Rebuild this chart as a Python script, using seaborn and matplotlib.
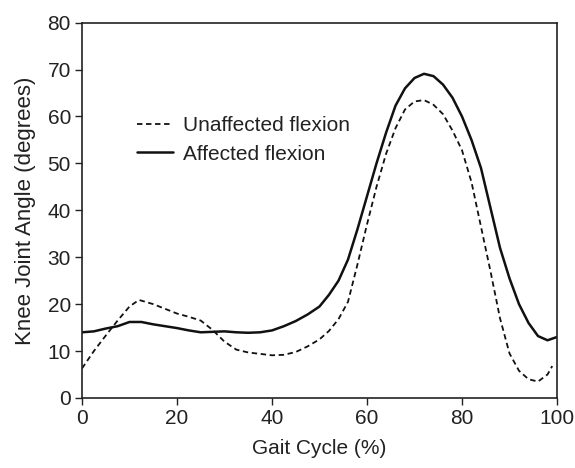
import matplotlib
matplotlib.use("Agg")
import matplotlib.pyplot as plt
import seaborn as sns
import pandas as pd

# values
affected_x = [0, 2.5, 5, 7.5, 10, 12.5, 15, 17.5, 20, 22.5, 25, 27.5, 30, 32.5, 35, 37.5,
              40, 42.5, 45, 47.5, 50, 52, 54, 56, 58, 60, 62, 64, 66, 68, 70, 72, 74, 76,
              78, 80, 82, 84, 86, 88, 90, 92, 94, 96, 98, 100]
affected_y = [14.0, 14.2, 14.8, 15.3, 16.2, 16.2, 15.7, 15.3, 14.9, 14.4, 14.0, 14.1, 14.2,
              14.0, 13.9, 14.0, 14.4, 15.3, 16.4, 17.8, 19.5, 22.0, 25.0, 29.5, 36.0, 43.0,
              50.0, 56.5, 62.3, 66.0, 68.2, 69.1, 68.6, 66.8, 64.0, 60.0, 55.0, 49.0, 40.5,
              32.0, 25.5, 20.0, 16.0, 13.2, 12.3, 13.0]

unaffected_x = [0, 2.5, 5, 7.5, 10, 12, 15, 17.5, 20, 22.5, 25, 27.5, 30, 32.5, 35, 37.5,
                40, 42.5, 45, 47.5, 50, 52, 54, 56, 58, 60, 62, 64, 66, 68, 70, 72, 74, 76,
                78, 80, 82, 84, 86, 88, 90, 92, 94, 96, 98, 99]
unaffected_y = [6.3, 10.0, 13.3, 16.5, 19.5, 20.9, 20.0, 19.0, 18.0, 17.3, 16.5, 14.5, 12.0,
                10.3, 9.7, 9.4, 9.1, 9.2, 9.8, 11.0, 12.5, 14.3, 16.8, 20.5, 28.5, 37.0, 45.0,
                52.0, 57.5, 61.5, 63.2, 63.5, 62.5, 60.5, 57.0, 52.8, 46.0, 36.5, 27.0, 17.0,
                9.5, 5.8, 4.0, 3.5, 5.0, 6.8]

x_ticks = [0, 20, 40, 60, 80, 100]
y_ticks = [0, 10, 20, 30, 40, 50, 60, 70, 80]

sns.set_style("ticks")
plt.rcParams["font.family"] = ["Liberation Sans", "DejaVu Sans"]

df_aff = pd.DataFrame({"x": affected_x, "y": affected_y})
df_unaff = pd.DataFrame({"x": unaffected_x, "y": unaffected_y})

fig = plt.figure(figsize=(5.75, 4.68), dpi=100)
ax = fig.add_axes([0.1426, 0.1496, 0.8261, 0.802])

sns.lineplot(data=df_unaff, x="x", y="y", ax=ax, color="#111111", linewidth=1.3,
             linestyle=(0, (3, 2)), label="Unaffected flexion")
sns.lineplot(data=df_aff, x="x", y="y", ax=ax, color="#111111", linewidth=1.8,
             label="Affected flexion")

ax.set_xlim(0, 100)
ax.set_ylim(0, 80)
ax.set_xticks(x_ticks)
ax.set_yticks(y_ticks)
ax.tick_params(labelsize=15, colors="#222222", length=5, width=1, pad=3)
for s in ax.spines.values():
    s.set_visible(True)
    s.set_color("#222222")
    s.set_linewidth(1.2)

ax.set_xlabel("Gait Cycle (%)", fontsize=15, color="#222222", labelpad=8)
ax.set_ylabel("Knee Joint Angle (degrees)", fontsize=16, color="#222222", labelpad=8)

leg = ax.legend(loc="upper left", bbox_to_anchor=(0.098, 0.773), frameon=False,
                fontsize=15, handlelength=1.75, handletextpad=0.45, labelspacing=0.45,
                borderaxespad=0)
for t in leg.get_texts():
    t.set_color("#222222")

fig.savefig("out.png", dpi=100)
